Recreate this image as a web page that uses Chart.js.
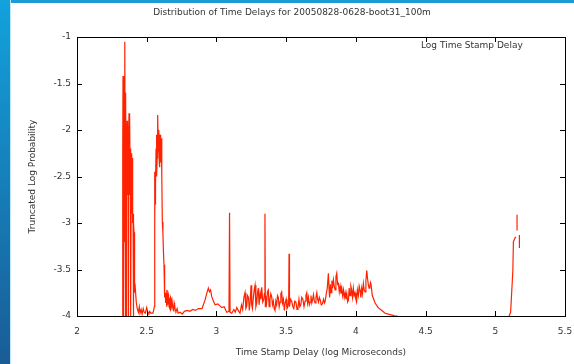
<!DOCTYPE html>
<html lang="en">
<head>
  <meta charset="UTF-8" />
  <title>Distribution of Time Delays</title>
  <script src="https://cdn.jsdelivr.net/npm/chart.js"></script>
  <style>
    html, body { margin: 0; padding: 0; background: #fff; }
    #wrap { position: relative; width: 574px; height: 364px; overflow: hidden; }
    #band { position: absolute; left: 0; top: 0; width: 10px; height: 364px;
            background: linear-gradient(#12a2dc, #1a5c96); border-right: 1px solid #bfe6f6; }
    #strip { position: absolute; left: 0; top: 0; width: 574px; height: 3px; background: #1b9bd6; }
  </style>
</head>
<body>
  <div id="wrap">
    <canvas id="delayChart"></canvas>
    <div id="strip"></div>
    <div id="band"></div>
  </div>

  <script>
    const chartTitle = "Distribution of Time Delays for 20050828-0628-boot31_100m";
    const xTitle = "Time Stamp Delay (log Microseconds)";
    const yTitle = "Truncated Log Probability";
    const seriesName = "Log Time Stamp Delay";

    const xTicks = [2, 2.5, 3, 3.5, 4, 4.5, 5, 5.5];
    const yTicks = [-1, -1.5, -2, -2.5, -3, -3.5, -4];

    // [log10 delay, truncated log probability]
    const spikeCluster = [
      [2.326,-4.00],[2.328,-2.20],[2.330,-1.42],[2.332,-3.00],[2.333,-4.00],[2.335,-1.60],
      [2.337,-1.45],[2.339,-3.20],[2.341,-2.60],[2.343,-1.30],[2.344,-1.05],[2.346,-2.90],
      [2.347,-4.00],[2.349,-1.70],[2.350,-1.60],[2.352,-2.80],[2.353,-2.30],[2.355,-3.50],
      [2.356,-4.00],[2.358,-2.10],[2.359,-1.90],[2.361,-2.70],[2.362,-2.50],[2.364,-1.95],
      [2.366,-2.00],[2.368,-3.30],[2.369,-4.00],[2.371,-2.20],[2.373,-1.82],[2.375,-2.40],
      [2.376,-2.70],[2.378,-1.95],[2.380,-1.85],[2.382,-2.60],[2.383,-2.20],[2.385,-3.40],
      [2.387,-4.00],[2.389,-2.50],[2.390,-2.25],[2.392,-2.90],[2.394,-2.80],[2.396,-2.30],
      [2.398,-2.40],[2.400,-3.00],[2.402,-2.90],[2.404,-3.60],[2.405,-4.00],[2.407,-3.00],
      [2.409,-3.10],[2.411,-3.50],[2.413,-3.40],[2.415,-3.75],[2.418,-3.70]
    ];
    const firstFloor = [
      [2.425,-3.85],[2.432,-3.92],[2.440,-3.96],[2.447,-3.90],[2.452,-3.97],[2.460,-3.93],
      [2.467,-3.98],[2.475,-3.92],[2.482,-3.96],[2.490,-3.97],[2.500,-3.91],[2.508,-3.96],
      [2.515,-3.98],[2.522,-3.95],[2.530,-3.97],[2.545,-3.97],[2.555,-3.90]
    ];
    const secondPeak = [
      [2.557,-2.45],[2.558,-2.95],[2.560,-2.60],[2.561,-2.50],[2.563,-2.80],[2.565,-2.60],
      [2.567,-2.20],[2.570,-2.05],[2.572,-2.50],[2.575,-2.30],[2.577,-2.00],[2.580,-1.84],
      [2.582,-2.10],[2.585,-2.24],[2.587,-2.05],[2.588,-2.00],[2.590,-2.35],[2.592,-2.40],
      [2.594,-2.15],[2.596,-2.05],[2.598,-2.30],[2.600,-2.20],[2.602,-2.35],[2.605,-2.09],
      [2.607,-2.30],[2.609,-2.48],[2.612,-2.99],[2.616,-3.10],[2.620,-3.31],[2.624,-3.45],
      [2.627,-3.63],[2.630,-3.80],[2.633,-3.75],[2.636,-3.86],[2.640,-3.81],[2.643,-3.90],
      [2.645,-3.72],[2.648,-3.85],[2.650,-3.88],[2.654,-3.76],[2.657,-3.78],[2.660,-3.90],
      [2.664,-3.92],[2.667,-3.82],[2.670,-3.80],[2.674,-3.92],[2.678,-3.90],[2.682,-3.84],
      [2.685,-3.84],[2.689,-3.93],[2.693,-3.94],[2.697,-3.86],[2.700,-3.88],[2.705,-3.94],
      [2.710,-3.95],[2.718,-3.92]
    ];
    const valley = [
      [2.725,-3.97],[2.740,-3.96],[2.755,-3.98],[2.770,-3.95],[2.790,-3.94],[2.810,-3.95],
      [2.830,-3.93],[2.850,-3.94],[2.870,-3.92],[2.897,-3.92],[2.918,-3.83],[2.930,-3.76],
      [2.942,-3.70],[2.950,-3.74],[2.958,-3.72],[2.966,-3.79],[2.978,-3.84],[2.990,-3.88],
      [3.010,-3.87],[3.038,-3.91],[3.055,-3.90],[3.074,-3.96],[3.090,-3.95],[3.094,-2.89],
      [3.098,-3.96],[3.110,-3.97],[3.125,-3.93],[3.135,-3.96],[3.146,-3.91]
    ];
    const noiseA = [
      [3.160,-3.95],[3.169,-3.97],[3.180,-3.88],[3.188,-3.93],[3.197,-3.80],[3.205,-3.75],
      [3.211,-3.92],[3.217,-3.90],[3.223,-3.78],[3.230,-3.80],[3.236,-3.94],[3.242,-3.85],
      [3.248,-3.67],[3.253,-3.88],[3.258,-3.92],[3.265,-3.80],[3.271,-3.72],[3.277,-3.67],
      [3.283,-3.90],[3.289,-3.86],[3.295,-3.75],[3.300,-3.70],[3.306,-3.88],[3.313,-3.75],
      [3.319,-3.82],[3.325,-3.69],[3.332,-3.85],[3.340,-3.82],[3.344,-3.76],[3.348,-2.90],
      [3.351,-3.90],[3.353,-3.78],[3.360,-3.86],[3.366,-3.74],[3.372,-3.72],[3.378,-3.90],
      [3.384,-3.82],[3.390,-3.76],[3.396,-3.79],[3.402,-3.88],[3.408,-3.84],[3.414,-3.92],
      [3.420,-3.94],[3.426,-3.84],[3.432,-3.88],[3.438,-3.78],[3.444,-3.80],[3.450,-3.90],
      [3.456,-3.85],[3.462,-3.76],[3.468,-3.74],[3.474,-3.86],[3.480,-3.82],[3.487,-3.94],
      [3.493,-3.86],[3.500,-3.82],[3.506,-3.92],[3.512,-3.90],[3.518,-3.85],[3.521,-3.33],
      [3.524,-3.90]
    ];
    const noiseB = [
      [3.532,-3.82],[3.540,-3.84],[3.548,-3.90],[3.555,-3.92],[3.562,-3.84],[3.570,-3.85],
      [3.578,-3.93],[3.585,-3.91],[3.592,-3.82],[3.598,-3.90],[3.605,-3.88],[3.612,-3.80],
      [3.620,-3.82],[3.628,-3.90],[3.636,-3.84],[3.642,-3.78],[3.648,-3.75],[3.654,-3.86],
      [3.660,-3.80],[3.666,-3.88],[3.672,-3.85],[3.678,-3.78],[3.684,-3.86],[3.690,-3.82],
      [3.696,-3.77],[3.702,-3.84],[3.708,-3.86],[3.714,-3.80],[3.720,-3.75],[3.726,-3.82],
      [3.732,-3.85],[3.738,-3.80],[3.745,-3.83],[3.752,-3.88],[3.760,-3.87],[3.768,-3.82],
      [3.775,-3.86],[3.780,-3.84],[3.788,-3.76],[3.795,-3.70],[3.803,-3.54]
    ];
    const lateHump = [
      [3.808,-3.72],[3.812,-3.80],[3.817,-3.66],[3.822,-3.75],[3.828,-3.62],[3.833,-3.70],
      [3.839,-3.61],[3.845,-3.68],[3.851,-3.72],[3.857,-3.58],[3.863,-3.54],[3.869,-3.66],
      [3.875,-3.65],[3.881,-3.74],[3.887,-3.68],[3.893,-3.76],[3.899,-3.70],[3.905,-3.78],
      [3.911,-3.72],[3.917,-3.80],[3.923,-3.75],[3.929,-3.82],[3.935,-3.76],[3.941,-3.85],
      [3.947,-3.83],[3.952,-3.70],[3.958,-3.78],[3.964,-3.68],[3.970,-3.72],[3.976,-3.80],
      [3.982,-3.70],[3.988,-3.78],[3.994,-3.75],[4.000,-3.82],[4.005,-3.85],[4.011,-3.72],
      [4.018,-3.78],[4.024,-3.68],[4.030,-3.72],[4.036,-3.80],[4.042,-3.70],[4.048,-3.76],
      [4.054,-3.65],[4.060,-3.72],[4.066,-3.74],[4.072,-3.62],[4.078,-3.51],[4.084,-3.60],
      [4.090,-3.67],[4.095,-3.70],[4.100,-3.68],[4.105,-3.64],[4.109,-3.66],[4.118,-3.78],
      [4.128,-3.82],[4.138,-3.86],[4.160,-3.91],[4.186,-3.94],[4.210,-3.97],[4.233,-3.98],
      [4.260,-3.99],[4.281,-4.00],[4.300,-4.00]
    ];
    const tailRise = [
      [5.099,-4.00],[5.110,-3.96],[5.126,-3.51],[5.130,-3.20],[5.142,-3.16],[5.149,-3.15]
    ];
    const tailBlipA = [[5.156,-3.08],[5.156,-2.91]];
    const tailBlipB = [[5.173,-3.13],[5.173,-3.27]];

    const segments = [spikeCluster, firstFloor, secondPeak, valley, noiseA, noiseB, lateHump];
    const toPoint = ([x, y]) => ({ x, y });
    const points = [
      ...segments.flat().map(toPoint),
      { x: 4.31, y: null },
      ...tailRise.map(toPoint),
      { x: 5.152, y: null },
      ...tailBlipA.map(toPoint),
      { x: 5.165, y: null },
      ...tailBlipB.map(toPoint)
    ];
    const fontFamily = "'DejaVu Sans', sans-serif";

    const framePlugin = {
      id: "frame",
      afterDraw(chart) {
        const { ctx, chartArea: a, scales } = chart;
        ctx.save();
        ctx.strokeStyle = "#000";
        ctx.lineWidth = 1;
        ctx.strokeRect(a.left + 0.5, a.top + 0.5, a.right - a.left, a.bottom - a.top);
        ctx.beginPath();
        xTicks.forEach(v => {
          const px = Math.round(scales.x.getPixelForValue(v)) + 0.5;
          ctx.moveTo(px, a.bottom); ctx.lineTo(px, a.bottom - 5);
          ctx.moveTo(px, a.top); ctx.lineTo(px, a.top + 5);
        });
        yTicks.forEach(v => {
          const py = Math.round(scales.y.getPixelForValue(v)) + 0.5;
          ctx.moveTo(a.left, py); ctx.lineTo(a.left + 5, py);
          ctx.moveTo(a.right, py); ctx.lineTo(a.right - 5, py);
        });
        ctx.stroke();

        ctx.fillStyle = "#333";
        ctx.font = "9px " + fontFamily;
        ctx.textBaseline = "middle";
        ctx.textAlign = "center";
        ctx.fillText(chartTitle, 292, 13);
        ctx.fillText(xTitle, (a.left + a.right) / 2, 353);
        ctx.textAlign = "left";
        ctx.fillText(seriesName, 421, 46);
        ctx.translate(33, (a.top + a.bottom) / 2);
        ctx.rotate(-Math.PI / 2);
        ctx.textAlign = "center";
        ctx.fillText(yTitle, 0, 0);
        ctx.restore();
      }
    };

    new Chart(document.getElementById("delayChart").getContext("2d"), {
      type: "line",
      data: {
        datasets: [{
          label: seriesName,
          data: points,
          borderColor: "#ff2200",
          borderWidth: 1.2,
          pointRadius: 0,
          tension: 0,
          spanGaps: false,
          fill: false
        }]
      },
      options: {
        responsive: true,
        maintainAspectRatio: false,
        animation: false,
        layout: { padding: { left: 0, right: 9, top: 37, bottom: 0 } },
        plugins: {
          legend: { display: false },
          tooltip: { enabled: false }
        },
        scales: {
          x: {
            type: "linear",
            min: 2, max: 5.5,
            afterBuildTicks: s => { s.ticks = xTicks.map(v => ({ value: v })); },
            afterFit: s => { s.height = 48; s.paddingLeft = 0; s.paddingRight = 0; },
            grid: { display: false, drawTicks: false },
            border: { display: false },
            ticks: { padding: 10, color: "#333", font: { family: fontFamily, size: 9 },
                     callback: v => String(v) }
          },
          y: {
            type: "linear",
            min: -4, max: -1,
            afterBuildTicks: s => { s.ticks = yTicks.map(v => ({ value: v })); },
            afterFit: s => { s.width = 77; s.paddingTop = 0; s.paddingBottom = 0; },
            grid: { display: false, drawTicks: false },
            border: { display: false },
            ticks: { padding: 6, color: "#333", font: { family: fontFamily, size: 9 },
                     callback: v => String(v) }
          }
        }
      },
      plugins: [framePlugin]
    });
  </script>
</body>
</html>
